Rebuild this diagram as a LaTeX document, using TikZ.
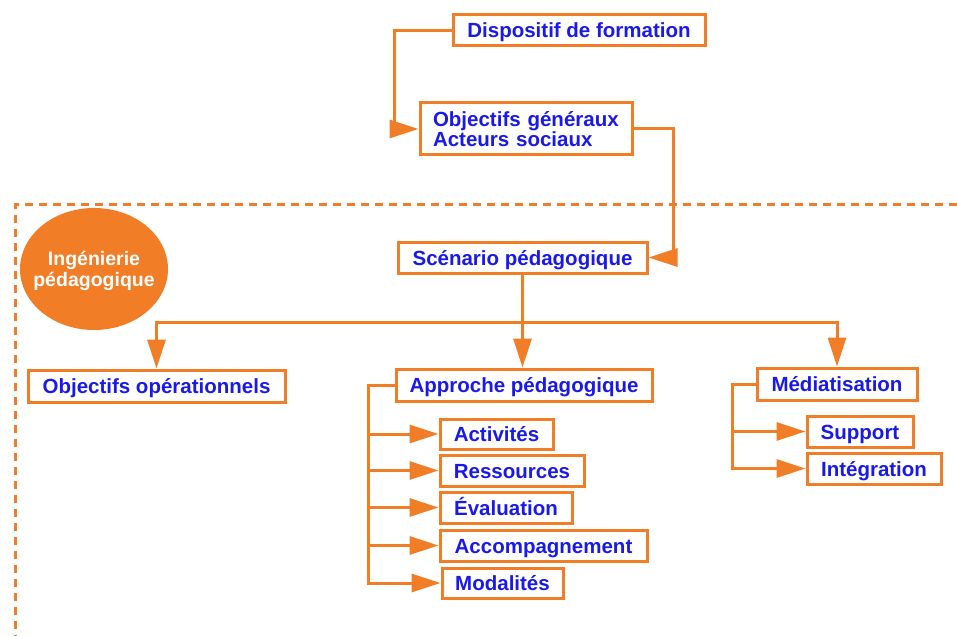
\documentclass[tikz,border=0pt]{standalone}
\usepackage{fontspec}
\setmainfont{Liberation Sans}
\usetikzlibrary{arrows.meta,shapes.geometric}
\definecolor{orng}{RGB}{241,125,38}
\definecolor{txtblue}{RGB}{25,25,235}
\tikzset{
  box/.style={draw=orng, line width=3pt, fill=white, text=txtblue, font=\fontsize{20.5}{23}\selectfont\bfseries, inner sep=0pt, text height=15pt, text depth=0pt},
  conn/.style={draw=orng, line width=3pt},
  arr/.style={conn, -{Triangle[length=29pt,width=18pt]}},
}
\begin{document}
\begin{tikzpicture}[x=1pt,y=-1pt]
\useasboundingbox (0,0) rectangle (957,636);
% dashed frame
\coordinate (dl1) at (957,205);
\coordinate (dl2) at (15,205);
\coordinate (dl3) at (15,636);
\draw[orng, line width=3pt, dash pattern=on 8pt off 6pt] (dl1) -- (dl2) -- (dl3);
% ellipse
\node[ellipse, fill=orng, minimum width=148pt, minimum height=122pt, inner sep=0pt] (ing) at (94,269) {};
\node[text=white, align=center, inner sep=0pt, font=\fontsize{19.5}{20.5}\selectfont\bfseries] (ingt) at (94,271) {Ingénierie\\pédagogique};
% boxes
\node[box, minimum width=252pt, minimum height=31pt] (disp) at (579,30.5) {Dispositif de formation};
\node[box, minimum width=212pt, minimum height=52pt, text width=186pt, align=left, text height=, text depth=, font=\fontsize{20.5}{19.5}\selectfont\bfseries] (obj) at (526,129) {Objectifs généraux\\Acteurs sociaux};
\node[box, minimum width=249pt, minimum height=31pt] (scen) at (522.5,257.5) {Scénario pédagogique};
\node[box, minimum width=257pt, minimum height=32pt] (objop) at (156.5,386) {Objectifs opérationnels};
\node[box, minimum width=256pt, minimum height=32pt] (appr) at (524,385) {Approche pédagogique};
\node[box, minimum width=113pt, minimum height=30pt] (act) at (496.5,434) {Activités};
\node[box, minimum width=144pt, minimum height=31pt] (res) at (512,470.5) {Ressources};
\node[box, minimum width=132pt, minimum height=31pt] (eva) at (506,507.5) {Évaluation};
\node[box, minimum width=207pt, minimum height=31pt] (acc) at (543.5,545.5) {Accompagnement};
\node[box, minimum width=121pt, minimum height=30pt] (mod) at (502.5,583) {Modalités};
\node[box, minimum width=160pt, minimum height=32pt] (med) at (837,384) {Médiatisation};
\node[box, minimum width=106pt, minimum height=31pt] (sup) at (860,431.5) {Support};
\node[box, minimum width=134pt, minimum height=31pt] (integ) at (874,468.5) {Intégration};
% connectors
\coordinate (c1) at (394,30.5);
\draw[arr] (disp.west) -- (c1) |- (obj.west);
\coordinate (c2) at (673,129);
\draw[arr] (obj.east) -- (c2) |- (scen.east);
\coordinate (bus) at (522.5,322);
\draw[arr] (scen.south) -- (bus) -- (bus |- appr.north);
\draw[arr] (bus) -| (objop.north);
\draw[arr] (bus) -| (med.north);
\coordinate (r1) at (368,385);
\draw[arr] (appr.west) -- (r1) |- (mod.west);
\draw[arr] (r1) |- (act.west);
\draw[arr] (r1) |- (res.west);
\draw[arr] (r1) |- (eva.west);
\draw[arr] (r1) |- (acc.west);
\coordinate (r2) at (732,384);
\draw[arr] (med.west) -- (r2) |- (integ.west);
\draw[arr] (r2) |- (sup.west);
\end{tikzpicture}
\end{document}
